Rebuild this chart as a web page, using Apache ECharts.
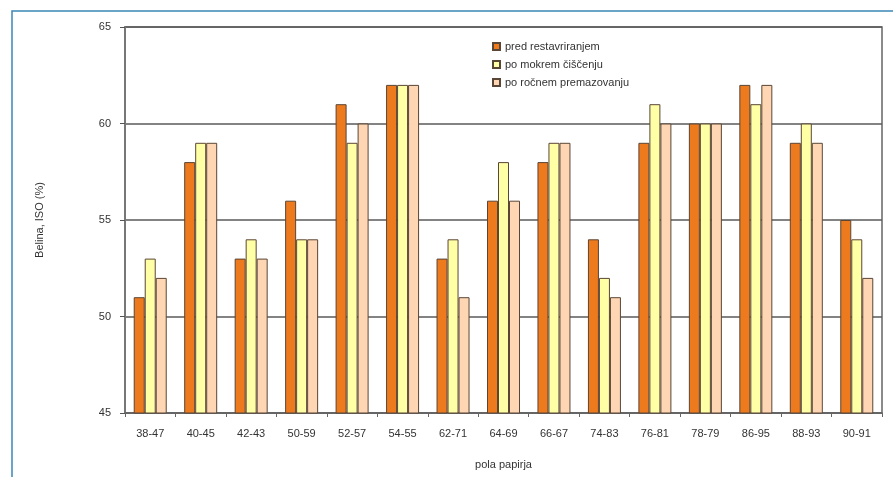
<!DOCTYPE html>
<html>
<head>
<meta charset="utf-8">
<script src="https://cdn.jsdelivr.net/npm/echarts@6/dist/echarts.min.js"></script>
<style>html,body{margin:0;padding:0;background:#fff;}#c{width:893px;height:477px;}</style>
</head>
<body>
<div id="c"></div>
<script>
const categories = ["38-47","40-45","42-43","50-59","52-57","54-55","62-71","64-69","66-67","74-83","76-81","78-79","86-95","88-93","90-91"];
const seriesNames = ["pred restavriranjem","po mokrem čiščenju","po ročnem premazovanju"];
const predRestavriranjem = [51,58,53,56,61,62,53,56,58,54,59,60,62,59,55];
const poMokremCiscenju = [53,59,54,54,59,62,54,58,59,52,61,60,61,60,54];
const poRocnem = [52,59,53,54,60,62,51,56,59,51,60,60,62,59,52];
const yTicks = [45,50,55,60,65];

const colors = ['#EE7A1E','#FFFFA6','#FFD6B4'];
const chart = echarts.init(document.getElementById('c'));
const font = 'Liberation Sans, Arial, sans-serif';
const mk = (name, data, i) => ({
  name, type:'bar', data, barWidth:11, barGap:'0%',
  itemStyle:{color:colors[i], borderColor:'#5a4636', borderWidth:1}
});
chart.setOption({
  animation:false,
  textStyle:{fontFamily:font},
  graphic:[{type:'rect', shape:{x:12,y:11,width:900,height:520}, style:{fill:'none', stroke:'#3a86b5', lineWidth:1.5}, z:-1}],
  grid:{left:125, right:11, top:27, bottom:64, show:true, borderColor:'#666', borderWidth:1.5},
  legend:{
    orient:'vertical', left:487, top:36, itemWidth:7, itemHeight:7, itemGap:7,
    icon:'rect', textStyle:{fontSize:11, color:'#333', fontFamily:font}
  },
  xAxis:{
    type:'category', data:categories, name:'pola papirja', nameLocation:'middle', nameGap:46,
    nameTextStyle:{fontSize:11, color:'#333'},
    axisLine:{lineStyle:{color:'#666', width:1.5}},
    axisTick:{show:true, length:4, lineStyle:{color:'#666'}},
    axisLabel:{fontSize:11, color:'#333', margin:15}
  },
  yAxis:{
    type:'value', min:yTicks[0], max:yTicks[yTicks.length-1], interval:5,
    name:'Belina, ISO (%)', nameLocation:'middle', nameGap:80, nameRotate:90,
    nameTextStyle:{fontSize:11, color:'#333'},
    axisLine:{show:true, lineStyle:{color:'#777', width:2}},
    axisTick:{show:true, length:5, lineStyle:{color:'#555'}},
    axisLabel:{fontSize:11, color:'#333', margin:14},
    splitLine:{show:true, lineStyle:{color:'#5a5a5a', width:1.5}}
  },
  series:[mk(seriesNames[0], predRestavriranjem,0), mk(seriesNames[1], poMokremCiscenju,1), mk(seriesNames[2], poRocnem,2)]
});
</script>
</body>
</html>
